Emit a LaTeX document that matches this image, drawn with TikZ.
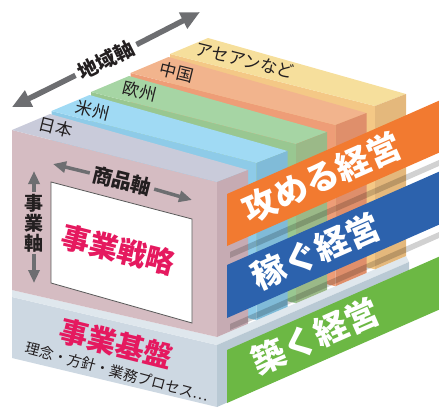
\documentclass[tikz,border=0pt]{standalone}
\usepackage{fontspec}
\newfontfamily\jp{Noto Sans CJK JP}
\usetikzlibrary{arrows.meta,calc}
\definecolor{pkT}{HTML}{C9CBDA}
\definecolor{pkF}{HTML}{D5BCC2}
\definecolor{pkS}{HTML}{C6ABB3}
\definecolor{blT}{HTML}{A0DAF4}
\definecolor{blF}{HTML}{8ECBE8}
\definecolor{blS}{HTML}{80BBD8}
\definecolor{grT}{HTML}{A6D5A4}
\definecolor{grF}{HTML}{99C791}
\definecolor{grS}{HTML}{9BB988}
\definecolor{orT}{HTML}{F2B48D}
\definecolor{orF}{HTML}{EE9D77}
\definecolor{orS}{HTML}{DF8F6B}
\definecolor{ylT}{HTML}{F6DF9C}
\definecolor{ylF}{HTML}{F4C886}
\definecolor{ylS}{HTML}{E4B87C}
\definecolor{bsF}{HTML}{CDD8E2}
\definecolor{bsT}{HTML}{DFE7ED}
\definecolor{bsS}{HTML}{B9C9D4}
\definecolor{arrgray}{HTML}{6D6E71}
\definecolor{ink}{HTML}{231F20}
\definecolor{mag}{HTML}{E5195F}
\definecolor{banO}{HTML}{F27A30}
\definecolor{banB}{HTML}{2C62AD}
\definecolor{banG}{HTML}{6CB844}
\begin{document}
\begin{tikzpicture}[x=1pt,y=-1pt,
  slablab/.style={font=\jp\fontsize{17}{17}\selectfont, text=ink, inner sep=0pt, rotate=-14},
  axlab/.style={font=\jp\bfseries\fontsize{20}{20}\selectfont, text=ink, inner sep=1pt},
  bigarr/.style={draw=arrgray, line width=5.5pt, -{Triangle[length=19pt,width=17pt]}, shorten <=3pt},
  midarr/.style={draw=arrgray, line width=3.5pt, -{Triangle[length=13pt,width=11pt]}, shorten <=2pt},
  bigtext/.style={font=\jp\bfseries\fontsize{29}{29}\selectfont, text=mag, inner sep=0pt, rotate=-14},
  bantext/.style={font=\jp\bfseries\fontsize{34}{34}\selectfont, text=white, inner sep=0pt, rotate=23.75},
  panel/.style={fill=white, draw=black!65, line width=0.8pt},
  shadow/.style={fill=black, opacity=0.18}
]
\useasboundingbox (0,0) rectangle (439,408);

% base block
\fill[bsF] (12,297) -- (217,345) -- (217,407) -- (12,358) -- cycle;
\fill[bsT] (12,290) -- (12,297) -- (217,345) -- (409,262) -- (406,256) -- (217,337) -- cycle;
\fill[bsS] (217,345) -- (409,262) -- (409,322) -- (217,407) -- cycle;

% regional slabs, back to front
\foreach \n/\ct/\cf/\cs in {4/ylT/ylF/ylS,3/orT/orF/orS,2/grT/grF/grS,1/blT/blF/blS,0/pkT/pkF/pkS}{
  \pgfmathsetmacro\xa{12+39.5*\n}
  \pgfmathsetmacro\ya{130-19*\n}
  \pgfmathsetmacro\xb{217+39.5*\n}
  \pgfmathsetmacro\yb{182-19*\n}
  \pgfmathsetmacro\xc{\xb+31}
  \pgfmathsetmacro\yc{\yb-12}
  \pgfmathsetmacro\Lb{337-0.4286*(\xb-217)}
  \pgfmathsetmacro\Lc{337-0.4286*(\xc-217)}
  \pgfmathsetmacro\Lbl{\Lb-47}
  \pgfmathsetmacro\xd{\xa+38}
  \pgfmathsetmacro\yd{\ya-16}
  \fill[\cf] (\xa,\ya) -- (\xb,\yb) -- (\xb,\Lb) -- (\xa,\Lbl) -- cycle;
  \fill[\ct] (\xa,\ya) -- (\xb,\yb) -- (\xc,\yc) -- (\xd,\yd) -- cycle;
  \fill[\cs] (\xb,\yb) -- (\xc,\yc) -- (\xc,\Lc) -- (\xb,\Lb) -- cycle;
}

% slab labels
\node[slablab] (jpn) at (56,127) {日本};
\node[slablab] (ame) at (93,110) {米州};
\node[slablab] (eur) at (140,91) {欧州};
\node[slablab] (chn) at (177,72) {中国};
\node[slablab] (asn) at (245,60) {アセアンなど};

% regional axis arrow
\node[axlab, rotate=26.8] (geo) at (106,60) {地域軸};
\coordinate (geoL) at (12,107);
\coordinate (geoR) at (200,12);
\draw[bigarr] (geo.west) -- (geoL);
\draw[bigarr] (geo.east) -- (geoR);

% white panel
\draw[panel] (51,182) -- (192,219) -- (192,323) -- (51,283) -- cycle;
\node[bigtext] (strat) at (118,250) {事業戦略};

% product axis
\node[axlab, rotate=-14] (prod) at (122,181) {商品軸};
\coordinate (prodL) at (53,164);
\coordinate (prodR) at (192,200);
\draw[midarr] (prod.west) -- (prodL);
\draw[midarr] (prod.east) -- (prodR);

% business axis
\node[axlab, align=center, font=\jp\bfseries\fontsize{19}{20}\selectfont, inner sep=0pt] (bizax) at (34,223) {事\\業\\軸};
\coordinate (bizU) at (34,171);
\coordinate (bizD) at (34,283);
\draw[midarr] (bizax.north) -- (bizU);
\draw[midarr] (bizax.south) -- (bizD);

% base texts
\node[bigtext] (found) at (116,344) {事業基盤};
\node[font=\jp\fontsize{14.5}{14.5}\selectfont, text=ink, inner sep=0pt, rotate=-15] (found2) at (117,372) {理念・方針・業務プロセス…};

% banners
\fill[shadow] (230,252) -- (439,160) -- (439,166) -- (230,258) -- cycle;
\fill[banO] (227,194) -- (439,100.7) -- (439,152.7) -- (227,246) -- cycle;
\fill[shadow] (230,324) -- (439,232) -- (439,238) -- (230,330) -- cycle;
\fill[banB] (227,265) -- (439,171.7) -- (439,224.7) -- (227,318) -- cycle;
\fill[banG] (227,350) -- (439,256.7) -- (439,309.7) -- (227,403) -- cycle;
\node[bantext] (attack) at (322,177) {攻める経営};
\node[bantext] (earn) at (316,251) {稼ぐ経営};
\node[bantext] (build) at (315,336) {築く経営};
\end{tikzpicture}
\end{document}
